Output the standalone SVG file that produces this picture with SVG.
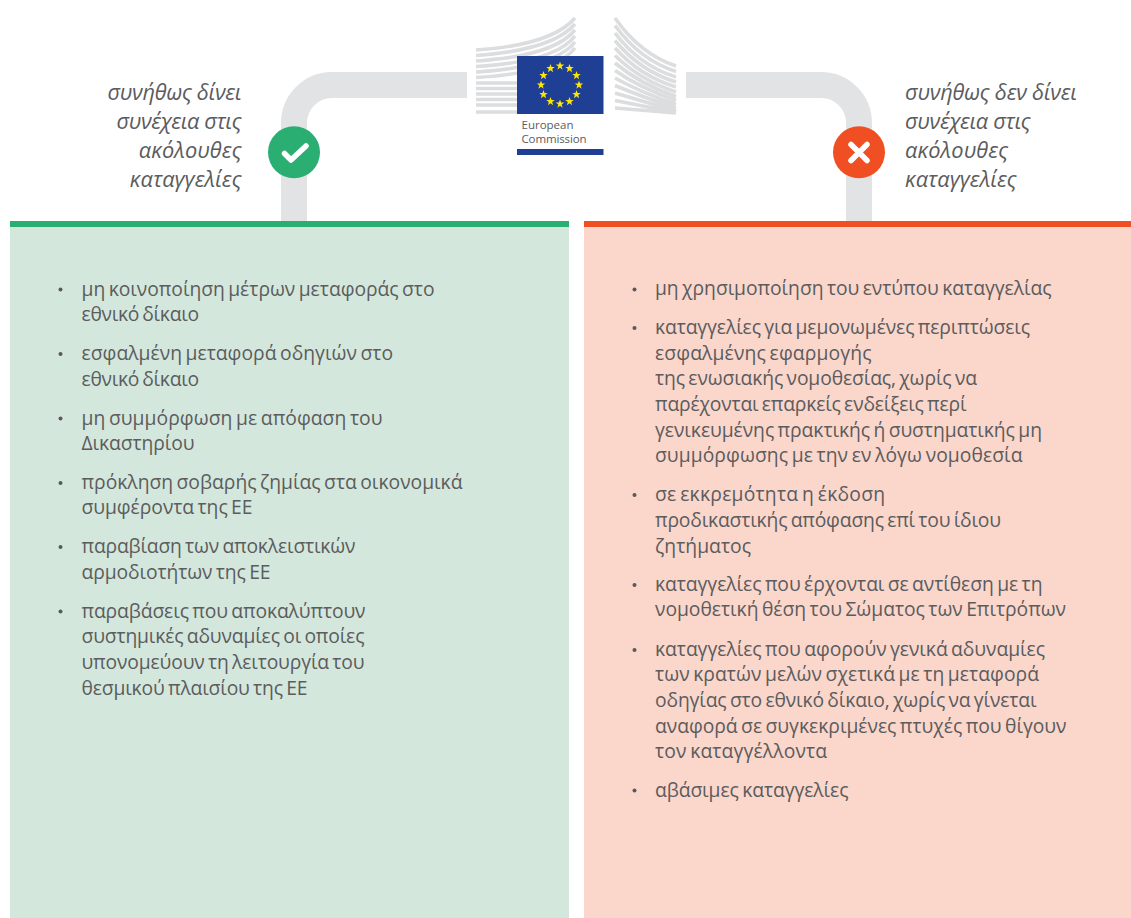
<svg xmlns="http://www.w3.org/2000/svg" width="1131" height="918" viewBox="0 0 1131 918">
<style>
text{font-family:"Open Sans","Noto Sans","Liberation Sans",sans-serif;fill:#5b5c5e}
.t{font-size:19.3px;font-weight:400;word-spacing:-1.5px}
.h{font-size:21.8px;font-style:italic}
.b{fill:#58595b}
.conn{fill:none;stroke:#e2e3e5;stroke-width:26}
.st{fill:none;stroke:#dcddde;stroke-width:3.6}
.star{fill:#ffe600}
</style>
<defs><path id="star" d="M0-4.400L1.100-1.400 4.200-1.400 1.700 .6 2.600 3.700 0 1.800-2.600 3.700-1.700 .6-4.200-1.400-1.100-1.400z"/></defs>
<rect width="1131" height="918" fill="#fff"/>
<g id="connectors">
<path class="conn" d="M467 85H332A38 38 0 0 0 294 123V221"/>
<path class="conn" d="M686 85H821A38 38 0 0 1 859 123V221"/>
</g>
<g id="logo">
<g class="st">
<path d="M476 50Q552 45 575 18M476 55.500Q553 50 575 24M476 61Q554 56 575 30M476 66.500Q555 62 575 36M476 72Q556 67 575 42M476 77.500Q556 73 575 48"/>
<path d="M476 83H517M476 88.500H517M476 94H517M476 99.500H517M476 105H517M476 112H517"/>
<path d="M615 18Q640 54 676 66M615 25.500Q640 60 676 71.500M615 33Q640 66 676 77M615 40.500Q640 71 676 82M615 48Q640 76 676 87M615 55.500Q640 80 676 92"/>
<path d="M615 63Q640 84 676 96.500M615 70.500Q640 88 676 100.500M615 78Q640 92 676 104.500M615 85.500Q640 96 676 108M615 93L676 111M615 100.500L676 112.500M615 108L676 113"/>
</g>
<rect x="517" y="56" width="86.500" height="58" fill="#1f3f95"/>
<g class="star">
<use href="#star" x="560" y="66"/><use href="#star" x="569.500" y="68.500"/><use href="#star" x="576.500" y="75.500"/><use href="#star" x="579" y="85"/><use href="#star" x="576.500" y="94.500"/><use href="#star" x="569.500" y="101.500"/><use href="#star" x="560" y="104"/><use href="#star" x="550.500" y="101.500"/><use href="#star" x="543.500" y="94.500"/><use href="#star" x="541" y="85"/><use href="#star" x="543.500" y="75.500"/><use href="#star" x="550.500" y="68.500"/>
</g>
<text x="521.500" y="128.500" font-size="11.500" textLength="52">European</text>
<text x="521.500" y="143" font-size="11.500" textLength="65">Commission</text>
<rect x="517" y="149" width="86.500" height="6" fill="#1f3f95"/>
</g>
<g id="node-yes">
<rect x="10" y="221" width="559" height="697" fill="#d4e7dc"/>
<rect x="10" y="221" width="559" height="6" fill="#2bae72"/>
<circle cx="294" cy="152.300" r="26" fill="#2bae72"/>
<path d="M284.500 153.500l6.500 6.500 15-14" fill="none" stroke="#fff" stroke-width="5.500" stroke-linecap="round" stroke-linejoin="round"/>
<g class="h" text-anchor="end">
<text x="241.500" y="100" textLength="134">συνήθως δίνει</text>
<text x="241.500" y="129" textLength="125">συνέχεια στις</text>
<text x="241.500" y="158" textLength="102.700">ακόλουθες</text>
<text x="241.500" y="187" textLength="111.700">καταγγελίες</text>
</g>
<g class="b"><circle cx="60.500" cy="289.500" r="2"/><circle cx="60.500" cy="354" r="2"/><circle cx="60.500" cy="418.500" r="2"/><circle cx="60.500" cy="483" r="2"/><circle cx="60.500" cy="547" r="2"/><circle cx="60.500" cy="611.500" r="2"/></g>
<g class="t">
<text x="81.500" y="295.500" textLength="353">μη κοινοποίηση μέτρων μεταφοράς στο</text>
<text x="81.500" y="321" textLength="117.500">εθνικό δίκαιο</text>
<text x="81.500" y="359.500" textLength="311.500">εσφαλμένη μεταφορά οδηγιών στο</text>
<text x="81.500" y="385.500" textLength="117.500">εθνικό δίκαιο</text>
<text x="81.500" y="424.500" textLength="301">μη συμμόρφωση με απόφαση του</text>
<text x="81.500" y="450" textLength="113">Δικαστηρίου</text>
<text x="81.500" y="488.500" textLength="381">πρόκληση σοβαρής ζημίας στα οικονομικά</text>
<text x="81.500" y="514" textLength="171">συμφέροντα της ΕΕ</text>
<text x="81.500" y="553" textLength="274">παραβίαση των αποκλειστικών</text>
<text x="81.500" y="578.500" textLength="189">αρμοδιοτήτων της ΕΕ</text>
<text x="81.500" y="617.500" textLength="284">παραβάσεις που αποκαλύπτουν</text>
<text x="81.500" y="643" textLength="283">συστημικές αδυναμίες οι οποίες</text>
<text x="81.500" y="669" textLength="283">υπονομεύουν τη λειτουργία του</text>
<text x="81.500" y="694.500" textLength="226">θεσμικού πλαισίου της ΕΕ</text>
</g>
</g>
<g id="node-no">
<rect x="584" y="221" width="547" height="697" fill="#fad6cb"/>
<rect x="584" y="221" width="547" height="6" fill="#f04e23"/>
<circle cx="859" cy="152.300" r="26" fill="#f04e23"/>
<path d="M851 144.500l16 16M867 144.500l-16 16" fill="none" stroke="#fff" stroke-width="5.500" stroke-linecap="round"/>
<g class="h">
<text x="905" y="100" textLength="172">συνήθως δεν δίνει</text>
<text x="905" y="129" textLength="125.700">συνέχεια στις</text>
<text x="905" y="158" textLength="103">ακόλουθες</text>
<text x="905" y="187" textLength="111.700">καταγγελίες</text>
</g>
<g class="b"><circle cx="634.500" cy="289.500" r="2"/><circle cx="634.500" cy="328" r="2"/><circle cx="634.500" cy="495" r="2"/><circle cx="634.500" cy="585" r="2"/><circle cx="634.500" cy="650" r="2"/><circle cx="634.500" cy="790.500" r="2"/></g>
<g class="t">
<text x="655" y="295" textLength="396.500">μη χρησιμοποίηση του εντύπου καταγγελίας</text>
<text x="655" y="333.500" textLength="375">καταγγελίες για μεμονωμένες περιπτώσεις</text>
<text x="655" y="359.500" textLength="216.500">εσφαλμένης εφαρμογής</text>
<text x="655" y="385" textLength="322">της ενωσιακής νομοθεσίας, χωρίς να</text>
<text x="655" y="410.500" textLength="311.500">παρέχονται επαρκείς ενδείξεις περί</text>
<text x="655" y="436.500" textLength="387">γενικευμένης πρακτικής ή συστηματικής μη</text>
<text x="655" y="462" textLength="367.500">συμμόρφωσης με την εν λόγω νομοθεσία</text>
<text x="655" y="500.500" textLength="230">σε εκκρεμότητα η έκδοση</text>
<text x="655" y="526.500" textLength="346">προδικαστικής απόφασης επί του ίδιου</text>
<text x="655" y="552.500" textLength="96">ζητήματος</text>
<text x="655" y="590.500" textLength="387.500">καταγγελίες που έρχονται σε αντίθεση με τη</text>
<text x="655" y="616" textLength="411">νομοθετική θέση του Σώματος των Επιτρόπων</text>
<text x="655" y="655.500" textLength="390">καταγγελίες που αφορούν γενικά αδυναμίες</text>
<text x="655" y="681" textLength="384">των κρατών μελών σχετικά με τη μεταφορά</text>
<text x="655" y="707" textLength="381.500">οδηγίας στο εθνικό δίκαιο, χωρίς να γίνεται</text>
<text x="655" y="732.500" textLength="411.500">αναφορά σε συγκεκριμένες πτυχές που θίγουν</text>
<text x="655" y="758" textLength="172">τον καταγγέλλοντα</text>
<text x="655" y="796.500" textLength="193.500">αβάσιμες καταγγελίες</text>
</g>
</g>
</svg>
